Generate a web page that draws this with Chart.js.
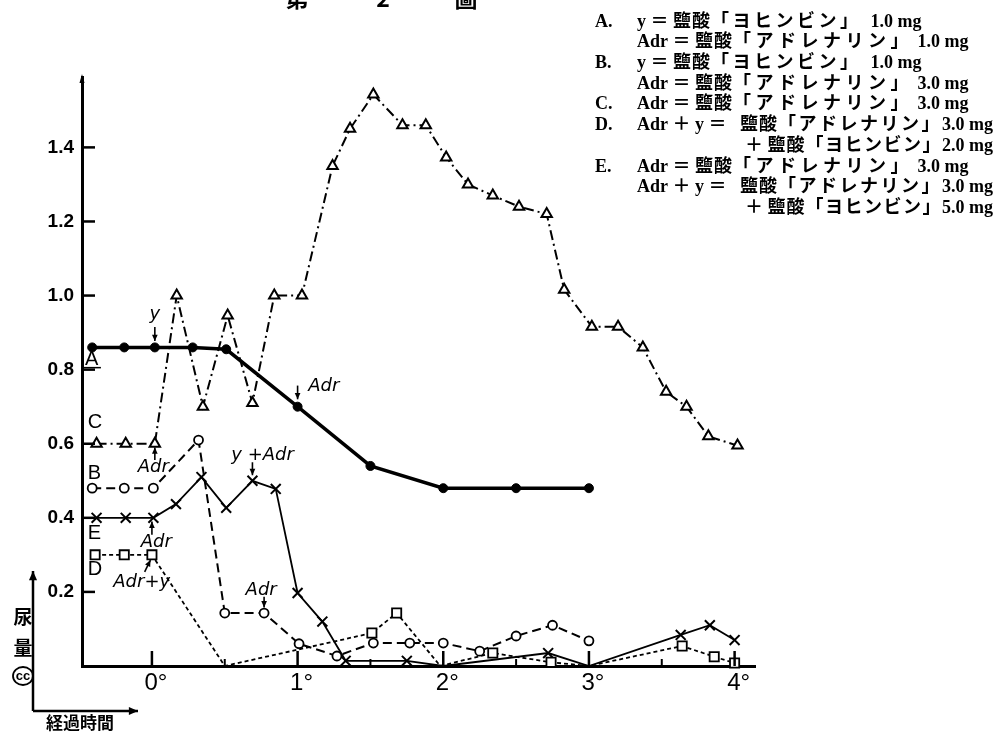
<!DOCTYPE html>
<html>
<head>
<meta charset="utf-8">
<script src="https://cdn.jsdelivr.net/npm/chart.js@4.4.1/dist/chart.umd.min.js"></script>
<style>
  html, body { margin: 0; padding: 0; background: #fff; }
</style>
</head>
<body>
<canvas id="chart" width="1002" height="732"></canvas>
<script>
// time (hours) and urine volume (cc)
const aX = [-0.41, -0.19, 0.02, 0.28, 0.51, 1.0, 1.5, 2.0, 2.5, 3.0];
const aY = [0.86, 0.86, 0.86, 0.86, 0.855, 0.70, 0.54, 0.48, 0.48, 0.48];

const bX = [-0.41, -0.19, 0.01, 0.32, 0.50, 0.77, 1.01, 1.27, 1.52, 1.77, 2.0, 2.25, 2.5, 2.75, 3.0];
const bY = [0.48, 0.48, 0.48, 0.61, 0.143, 0.143, 0.06, 0.027, 0.062, 0.062, 0.062, 0.04, 0.081, 0.11, 0.068];

const cX = [-0.38, -0.18, 0.02, 0.17, 0.35, 0.52, 0.69, 0.84, 1.03, 1.24, 1.36, 1.52, 1.72, 1.88, 2.02, 2.17, 2.34, 2.52, 2.71, 2.83, 3.02, 3.20, 3.37, 3.53, 3.67, 3.82, 4.02];
const cY = [0.6, 0.6, 0.6, 1.0, 0.70, 0.946, 0.71, 1.0, 1.0, 1.35, 1.45, 1.543, 1.46, 1.46, 1.373, 1.30, 1.27, 1.24, 1.22, 1.016, 0.916, 0.916, 0.86, 0.74, 0.70, 0.62, 0.595];

const dX = [-0.39, -0.19, 0.0, 0.5, 1.51, 1.68, 1.98, 2.34, 2.74, 3.0, 3.64, 3.86, 4.0];
const dY = [0.30, 0.30, 0.30, 0.0, 0.089, 0.143, 0.0, 0.035, 0.01, 0.0, 0.054, 0.025, 0.008];

const eX = [-0.38, -0.18, 0.01, 0.165, 0.34, 0.51, 0.69, 0.85, 1.0, 1.17, 1.33, 1.75, 2.0, 2.72, 3.0, 3.63, 3.83, 4.0];
const eY = [0.40, 0.40, 0.40, 0.437, 0.51, 0.427, 0.50, 0.478, 0.197, 0.12, 0.014, 0.014, 0.0, 0.035, 0.0, 0.084, 0.11, 0.07];

const yTickValues = [0.2, 0.4, 0.6, 0.8, 1.0, 1.2, 1.4];
const xTickValues = [0, 1, 2, 3, 4];
const xMinorTicks = [0.5, 1.5, 2.5, 3.5];

// hand-written notes on the plot, in data units
const notes = [
  { text: 'y', at: [0.02, 0.95], from: [0.02, 0.915], to: [0.02, 0.877] },
  { text: 'Adr', at: [1.18, 0.754], from: [1.0, 0.757], to: [1.0, 0.72] },
  { text: 'Adr', at: [0.01, 0.535], from: [0.02, 0.556], to: [0.02, 0.59] },
  { text: 'y +Adr', at: [0.76, 0.57], from: [0.69, 0.55], to: [0.69, 0.515] },
  { text: 'Adr', at: [0.03, 0.335], from: [0.0, 0.354], to: [0.0, 0.39] },
  { text: 'Adr+y', at: [-0.07, 0.227], from: [-0.05, 0.254], to: [-0.01, 0.286] },
  { text: 'Adr', at: [0.75, 0.205], from: [0.77, 0.187], to: [0.77, 0.158] }
];

const seriesTags = [
  { text: 'A', at: [-0.46, 0.827], underline: true },
  { text: 'C', at: [-0.44, 0.657] },
  { text: 'B', at: [-0.44, 0.52] },
  { text: 'E', at: [-0.44, 0.357] },
  { text: 'D', at: [-0.44, 0.26] }
];

// legend rows: [tag, pieces...]; piece = [text, letter spacing]
const legendRows = [
  ['A.', ['y ＝ ', 0], ['鹽酸', 1], ['「ヨヒンビン」', 3.5], ['  1.0 mg', 0]],
  ['', ['Adr ＝ ', 0], ['鹽酸', 1], ['「アドレナリン」', 4.5], [' 1.0 mg', 0]],
  ['B.', ['y ＝ ', 0], ['鹽酸', 1], ['「ヨヒンビン」', 3.5], ['  1.0 mg', 0]],
  ['', ['Adr ＝ ', 0], ['鹽酸', 1], ['「アドレナリン」', 4.5], [' 3.0 mg', 0]],
  ['C.', ['Adr ＝ ', 0], ['鹽酸', 1], ['「アドレナリン」', 4.5], [' 3.0 mg', 0]],
  ['D.', ['Adr ＋ y ＝   ', 0], ['鹽酸', 1], ['「アドレナリン」', 2.5], ['3.0 mg', 0]],
  ['+', ['＋ ', 0], ['鹽酸', 1], ['「ヨヒンビン」', 1.5], ['2.0 mg', 0]],
  ['E.', ['Adr ＝ ', 0], ['鹽酸', 1], ['「アドレナリン」', 4.5], [' 3.0 mg', 0]],
  ['', ['Adr ＋ y ＝   ', 0], ['鹽酸', 1], ['「アドレナリン」', 2.5], ['3.0 mg', 0]],
  ['+', ['＋ ', 0], ['鹽酸', 1], ['「ヨヒンビン」', 1.5], ['5.0 mg', 0]]
];

const toPoints = (xs, ys) => xs.map((x, i) => ({ x: x, y: ys[i] }));
const hideOnAxis = ctx => (ctx.raw && ctx.raw.y === 0 ? 0 : undefined);

function seg(ctx, x1, y1, x2, y2) {
  ctx.beginPath();
  ctx.moveTo(x1, y1);
  ctx.lineTo(x2, y2);
  ctx.stroke();
}

function arrow(ctx, x1, y1, x2, y2, head) {
  const a = Math.atan2(y2 - y1, x2 - x1);
  seg(ctx, x1, y1, x2, y2);
  ctx.beginPath();
  ctx.moveTo(x2, y2);
  ctx.lineTo(x2 - head * Math.cos(a - 0.42), y2 - head * Math.sin(a - 0.42));
  ctx.lineTo(x2 - head * Math.cos(a + 0.42), y2 - head * Math.sin(a + 0.42));
  ctx.closePath();
  ctx.fill();
}

function spaced(ctx, text, x, y, ls) {
  for (const ch of text) {
    ctx.fillText(ch, x, y);
    x += ctx.measureText(ch).width + ls;
  }
  return x;
}

const decor = {
  id: 'decor',
  afterDraw(chart) {
    const { ctx, scales: { x, y } } = chart;
    const px = v => x.getPixelForValue(v);
    const py = v => y.getPixelForValue(v);
    ctx.save();
    ctx.fillStyle = '#000';
    ctx.strokeStyle = '#000';
    ctx.setLineDash([]);

    // tick marks point into the plot
    ctx.lineWidth = 2.5;
    xTickValues.forEach(v => seg(ctx, px(v), y.bottom, px(v), y.bottom - 15));
    ctx.lineWidth = 2;
    xMinorTicks.forEach(v => seg(ctx, px(v), y.bottom, px(v), y.bottom - 7));
    ctx.lineWidth = 2.5;
    yTickValues.forEach(v => seg(ctx, x.left, py(v), x.left + 13, py(v)));

    // tip of the y axis
    ctx.beginPath();
    ctx.moveTo(x.left - 2.5, y.top + 6);
    ctx.lineTo(x.left, y.top - 3);
    ctx.lineTo(x.left + 2.5, y.top + 6);
    ctx.closePath();
    ctx.fill();

    // notes with arrows
    ctx.font = 'italic 18px "DejaVu Sans"';
    ctx.textAlign = 'center';
    ctx.textBaseline = 'middle';
    ctx.lineWidth = 1.6;
    notes.forEach(n => {
      ctx.fillText(n.text, px(n.at[0]), py(n.at[1]));
      arrow(ctx, px(n.from[0]), py(n.from[1]), px(n.to[0]), py(n.to[1]), 7);
    });

    // series letters
    ctx.font = '20px "Liberation Sans"';
    ctx.textAlign = 'left';
    seriesTags.forEach(t => {
      const tx = px(t.at[0]);
      const ty = py(t.at[1]);
      ctx.fillText(t.text, tx, ty);
      if (t.underline) {
        ctx.lineWidth = 1.5;
        seg(ctx, tx - 1, ty + 8, tx + 16, ty + 8);
      }
    });

    // legend block, top right
    ctx.font = 'bold 18px "Liberation Serif", "Noto Sans CJK JP"';
    ctx.textBaseline = 'middle';
    legendRows.forEach((row, i) => {
      const ly = 22 + i * 20.7;
      let lx = 637;
      if (row[0] === '+') {
        lx = 745;
      } else if (row[0]) {
        ctx.fillText(row[0], 595, ly);
      }
      row.slice(1).forEach(p => {
        lx = spaced(ctx, p[0], lx, ly, p[1]);
      });
    });

    // figure title, cut by the page edge
    ctx.font = 'bold 23px "Noto Sans CJK JP"';
    ctx.textAlign = 'center';
    ctx.textBaseline = 'alphabetic';
    ctx.fillText('第', 297, 7);
    ctx.fillText('2', 383, 7);
    ctx.fillText('圖', 466, 7);

    // unit / time key at the bottom left
    ctx.lineWidth = 2.5;
    arrow(ctx, 33, 711, 33, 571, 10);
    arrow(ctx, 33, 711, 138, 711, 10);
    ctx.font = 'bold 19px "Noto Sans CJK JP"';
    ctx.textBaseline = 'middle';
    ctx.fillText('尿', 23, 617);
    ctx.fillText('量', 23, 648);
    ctx.lineWidth = 1.8;
    ctx.beginPath();
    ctx.ellipse(23, 676, 10, 9, 0, 0, Math.PI * 2);
    ctx.stroke();
    ctx.font = 'bold 13px "Liberation Sans"';
    ctx.fillText('cc', 23, 676);
    ctx.font = 'bold 17px "Noto Sans CJK JP"';
    ctx.fillText('経過時間', 80, 723);
    ctx.restore();
  }
};

new Chart(document.getElementById('chart'), {
  type: 'scatter',
  data: {
    datasets: [
      {
        label: 'A',
        data: toPoints(aX, aY),
        showLine: true,
        borderColor: '#000',
        borderWidth: 3.5,
        pointStyle: 'circle',
        pointRadius: 4.5,
        pointBackgroundColor: '#000',
        pointBorderColor: '#000',
        pointBorderWidth: 1
      },
      {
        label: 'B',
        data: toPoints(bX, bY),
        showLine: true,
        borderColor: '#000',
        borderWidth: 2,
        borderDash: [9, 5],
        pointStyle: 'circle',
        pointRadius: 4.5,
        pointBackgroundColor: '#fff',
        pointBorderColor: '#000',
        pointBorderWidth: 1.8
      },
      {
        label: 'C',
        data: toPoints(cX, cY),
        showLine: true,
        borderColor: '#000',
        borderWidth: 2,
        borderDash: [10, 4, 2, 4],
        pointStyle: 'triangle',
        pointRadius: 6,
        pointBackgroundColor: '#fff',
        pointBorderColor: '#000',
        pointBorderWidth: 2
      },
      {
        label: 'D',
        data: toPoints(dX, dY),
        showLine: true,
        borderColor: '#000',
        borderWidth: 1.8,
        borderDash: [4, 3],
        pointStyle: 'rect',
        pointRadius: ctx => hideOnAxis(ctx) ?? 6.5,
        pointBackgroundColor: '#fff',
        pointBorderColor: '#000',
        pointBorderWidth: 1.8
      },
      {
        label: 'E',
        data: toPoints(eX, eY),
        showLine: true,
        borderColor: '#000',
        borderWidth: 1.8,
        pointStyle: 'crossRot',
        pointRadius: ctx => hideOnAxis(ctx) ?? 7,
        pointBorderColor: '#000',
        pointBorderWidth: 2
      }
    ]
  },
  options: {
    responsive: false,
    animation: false,
    devicePixelRatio: 1,
    clip: false,
    layout: { padding: { left: 0, top: 77, right: 247, bottom: 0 } },
    plugins: {
      legend: { display: false },
      tooltip: { enabled: false }
    },
    elements: { line: { tension: 0 } },
    scales: {
      x: {
        type: 'linear',
        min: -0.48,
        max: 4.14,
        grid: { display: false, drawTicks: false },
        border: { display: true, color: '#000', width: 3 },
        afterBuildTicks: s => { s.ticks = xTickValues.map(v => ({ value: v })); },
        afterFit: s => { s.height = 66; },
        ticks: {
          color: '#000',
          padding: 3,
          labelOffset: 4,
          font: { family: 'Liberation Sans', size: 24 },
          callback: v => v + '°'
        }
      },
      y: {
        type: 'linear',
        min: 0,
        max: 1.59,
        grid: { display: false, drawTicks: false },
        border: { display: true, color: '#000', width: 3 },
        afterBuildTicks: s => { s.ticks = yTickValues.map(v => ({ value: v })); },
        afterFit: s => { s.width = 82; },
        ticks: {
          color: '#000',
          padding: 8,
          font: { family: 'Liberation Sans', size: 19, weight: 'bold' },
          callback: v => v.toFixed(1)
        }
      }
    }
  },
  plugins: [decor]
});
</script>
</body>
</html>
